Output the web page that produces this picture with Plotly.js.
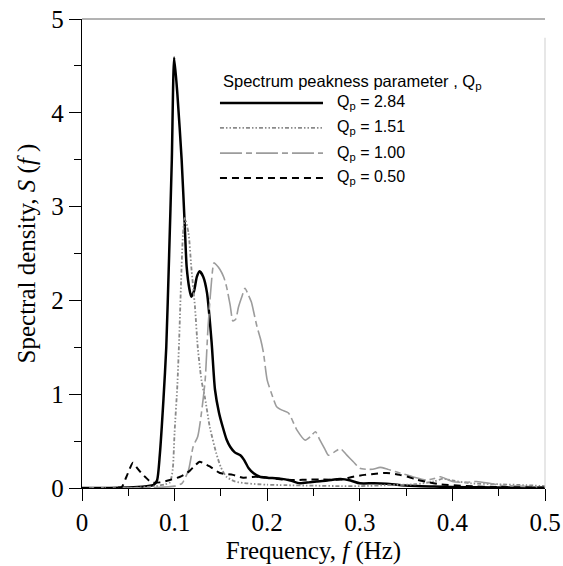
<!DOCTYPE html>
<html>
<head>
<meta charset="utf-8">
<script src="https://cdn.plot.ly/plotly-3.0.1.min.js"></script>
<style>html,body{margin:0;padding:0;background:#fff;}#chart{width:563px;height:566px;}</style>
</head>
<body>
<div id="chart"></div>
<script>
// Qp = 2.84 (solid black)
var f284 = [0, 0.03, 0.05, 0.06, 0.07, 0.077, 0.081, 0.084, 0.088, 0.091, 0.094, 0.097, 0.0995, 0.103, 0.1076, 0.111, 0.113, 0.116, 0.118, 0.121, 0.124, 0.127, 0.131, 0.135, 0.14, 0.1436, 0.148, 0.152, 0.156, 0.16, 0.165, 0.171, 0.175, 0.18, 0.185, 0.192, 0.2, 0.214, 0.225, 0.235, 0.245, 0.253, 0.265, 0.279, 0.29, 0.3, 0.315, 0.329, 0.345, 0.361, 0.38, 0.4, 0.43, 0.46, 0.5];
var s284 = [0, 0, 0.005, 0.01, 0.02, 0.03, 0.08, 0.35, 0.95, 1.5, 2.45, 3.5, 4.59, 4.2, 3.5, 2.79, 2.36, 2.12, 2.04, 2.1, 2.25, 2.31, 2.25, 2.08, 1.55, 1.05, 0.8, 0.65, 0.52, 0.44, 0.38, 0.35, 0.3, 0.21, 0.16, 0.12, 0.11, 0.1, 0.08, 0.05, 0.06, 0.07, 0.08, 0.095, 0.08, 0.05, 0.05, 0.045, 0.03, 0.02, 0.015, 0.01, 0.008, 0.005, 0.003];

// Qp = 1.51 (grey dotted)
var f151 = [0, 0.05, 0.07, 0.08, 0.085, 0.09, 0.095, 0.098, 0.1, 0.103, 0.105, 0.107, 0.109, 0.111, 0.115, 0.118, 0.122, 0.125, 0.129, 0.133, 0.138, 0.145, 0.15, 0.156, 0.165, 0.178, 0.19, 0.2, 0.22, 0.25, 0.28, 0.3, 0.33, 0.36, 0.38, 0.39, 0.4, 0.42, 0.45, 0.48, 0.5];
var s151 = [0, 0, 0.01, 0.02, 0.03, 0.04, 0.06, 0.2, 0.6, 1.1, 1.6, 2.2, 2.7, 2.88, 2.72, 2.36, 1.93, 1.5, 1.15, 0.95, 0.65, 0.37, 0.22, 0.12, 0.07, 0.05, 0.04, 0.035, 0.03, 0.025, 0.02, 0.02, 0.03, 0.04, 0.07, 0.1, 0.08, 0.05, 0.04, 0.03, 0.02];

// Qp = 1.00 (grey long dash)
var f100 = [0, 0.05, 0.08, 0.1, 0.108, 0.115, 0.12, 0.125, 0.129, 0.133, 0.136, 0.139, 0.1425, 0.145, 0.149, 0.153, 0.156, 0.16, 0.163, 0.166, 0.169, 0.173, 0.176, 0.18, 0.183, 0.186, 0.189, 0.193, 0.196, 0.2, 0.206, 0.21, 0.216, 0.223, 0.232, 0.241, 0.247, 0.252, 0.257, 0.262, 0.266, 0.272, 0.279, 0.286, 0.293, 0.3, 0.307, 0.314, 0.322, 0.33, 0.34, 0.357, 0.372, 0.38, 0.387, 0.4, 0.415, 0.426, 0.44, 0.451, 0.47, 0.5];
var s100 = [0, 0, 0.005, 0.02, 0.05, 0.19, 0.44, 0.55, 0.8, 1.15, 1.7, 2.1, 2.4, 2.38, 2.33, 2.25, 2.15, 1.95, 1.78, 1.8, 1.93, 2.05, 2.13, 2.05, 1.98, 1.85, 1.72, 1.58, 1.44, 1.15, 0.97, 0.87, 0.83, 0.8, 0.62, 0.51, 0.55, 0.6, 0.51, 0.42, 0.35, 0.38, 0.42, 0.35, 0.28, 0.21, 0.2, 0.2, 0.22, 0.2, 0.17, 0.12, 0.085, 0.1, 0.12, 0.07, 0.06, 0.07, 0.05, 0.03, 0.02, 0.01];

// Qp = 0.50 (black dashed)
var f050 = [0, 0.03, 0.04, 0.043, 0.048, 0.055, 0.059, 0.064, 0.068, 0.075, 0.084, 0.095, 0.106, 0.112, 0.117, 0.122, 0.127, 0.132, 0.138, 0.149, 0.163, 0.174, 0.188, 0.2, 0.217, 0.23, 0.246, 0.26, 0.279, 0.293, 0.305, 0.315, 0.329, 0.343, 0.352, 0.361, 0.375, 0.387, 0.415, 0.45, 0.5];
var s050 = [0, 0, 0.005, 0.01, 0.12, 0.27, 0.22, 0.16, 0.12, 0.06, 0.06, 0.085, 0.12, 0.15, 0.19, 0.24, 0.28, 0.26, 0.23, 0.16, 0.14, 0.11, 0.12, 0.11, 0.09, 0.085, 0.09, 0.09, 0.09, 0.12, 0.14, 0.15, 0.16, 0.14, 0.12, 0.09, 0.06, 0.04, 0.02, 0.01, 0.005];

var seriesNames = ['Q<sub>p</sub> = 2.84', 'Q<sub>p</sub> = 1.51', 'Q<sub>p</sub> = 1.00', 'Q<sub>p</sub> = 0.50'];
var legendTitle = 'Spectrum peakness parameter , Q<sub>p</sub>';
var xTicks = [0, 0.1, 0.2, 0.3, 0.4, 0.5];
var yTicks = [0, 1, 2, 3, 4, 5];

var styles = [
  {color: '#000000', width: 2.5, dash: 'solid'},
  {color: '#8a8a8a', width: 1.8, dash: '4px,2px,1.5px,2px,1.5px,2px'},
  {color: '#9c9c9c', width: 1.6, dash: '22px,4px,6px,4px'},
  {color: '#000000', width: 2, dash: '7px,5px'}
];
var xs = [f284, f151, f100, f050];
var ys = [s284, s151, s100, s050];

var traces = [];
for (var i = 0; i < 4; i++) {
  traces.push({
    x: xs[i], y: ys[i], type: 'scatter', mode: 'lines', name: seriesNames[i],
    line: {color: styles[i].color, width: styles[i].width, dash: styles[i].dash, shape: 'spline', smoothing: 0.6},
    showlegend: false
  });
}

// custom legend (decoration, in paper coordinates)
var shapes = [];
var annotations = [];
var rowY = [0.821, 0.768, 0.714, 0.661];
for (var j = 0; j < 4; j++) {
  shapes.push({type: 'line', xref: 'paper', yref: 'paper', x0: 0.298, x1: 0.5205, y0: rowY[j], y1: rowY[j],
    line: {color: styles[j].color, width: styles[j].width, dash: styles[j].dash}});
  annotations.push({xref: 'paper', yref: 'paper', x: 0.546, y: rowY[j], xanchor: 'left', yanchor: 'middle',
    text: seriesNames[j], showarrow: false, font: {family: 'Liberation Sans, Arial, sans-serif', size: 16, color: '#000'}});
}
annotations.push({xref: 'paper', yref: 'paper', x: 0.3, y: 0.866, xanchor: 'left', yanchor: 'middle',
  text: legendTitle, showarrow: false, font: {family: 'Liberation Sans, Arial, sans-serif', size: 16.5, color: '#000'}});
// frame top and right (faint)
shapes.push({type: 'line', xref: 'paper', yref: 'paper', x0: 0, x1: 1, y0: 1, y1: 1, line: {color: '#666', width: 1}});
shapes.push({type: 'line', xref: 'paper', yref: 'paper', x0: 1, x1: 1, y0: 0, y1: 0.96, line: {color: '#cfcfcf', width: 1}});

var serif = 'Liberation Serif, Times New Roman, serif';
var layout = {
  width: 563, height: 566,
  margin: {l: 82, r: 18, t: 19, b: 78},
  paper_bgcolor: '#fff', plot_bgcolor: '#fff',
  showlegend: false,
  xaxis: {
    range: [0, 0.5], tickvals: xTicks, ticktext: xTicks.map(String),
    ticks: 'outside', ticklen: 12, tickwidth: 1, tickcolor: '#000',
    minor: {dtick: 0.05, ticks: 'outside', ticklen: 7, tickwidth: 1, tickcolor: '#000'},
    showline: true, linecolor: '#000', linewidth: 1.2, showgrid: false, zeroline: false,
    tickfont: {family: serif, size: 25, color: '#000'},
    title: {text: 'Frequency, <i>f</i> (Hz)', font: {family: serif, size: 25, color: '#000'}, standoff: 6}
  },
  yaxis: {
    range: [0, 5], tickvals: yTicks, ticktext: yTicks.map(String),
    ticks: 'outside', ticklen: 12, tickwidth: 1, tickcolor: '#000',
    minor: {dtick: 0.5, ticks: 'outside', ticklen: 7, tickwidth: 1, tickcolor: '#000'},
    showline: true, linecolor: '#000', linewidth: 1.2, showgrid: false, zeroline: false,
    tickfont: {family: serif, size: 25, color: '#000'},
    title: {text: 'Spectral density, <i>S</i> (<i>f</i> )', font: {family: serif, size: 25, color: '#000'}, standoff: 8}
  },
  shapes: shapes,
  annotations: annotations
};

Plotly.newPlot('chart', traces, layout, {displayModeBar: false, staticPlot: true});
</script>
</body>
</html>
